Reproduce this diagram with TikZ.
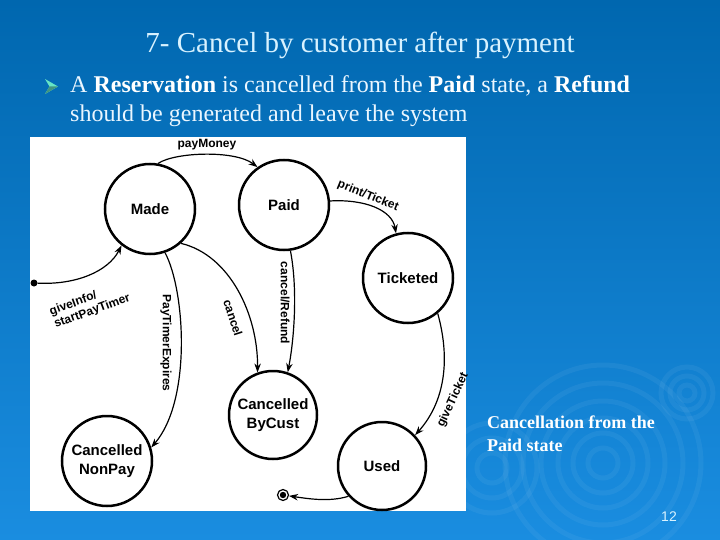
\documentclass[tikz,border=0pt]{standalone}
\usepackage{fontspec}
\setmainfont{Liberation Serif}
\setsansfont{Liberation Sans}
\usetikzlibrary{arrows.meta}
\definecolor{bgtop}{HTML}{0067AF}
\definecolor{bgbot}{HTML}{1A8DE0}
\definecolor{titlec}{HTML}{D8F2FF}
\definecolor{bodyc}{HTML}{EAF6FF}
\definecolor{bulletc}{HTML}{66E6C6}
\begin{document}
\begin{tikzpicture}[x=1pt,y=-1pt,
  stnode/.style={circle,draw,line width=2.5pt,minimum size=90pt,inner sep=0pt,fill=white,
    font=\sffamily\bfseries\fontsize{15}{19}\selectfont,align=center},
  lbl/.style={font=\sffamily\bfseries\fontsize{12}{13.5}\selectfont,inner sep=1pt},
  arr/.style={line width=1.2pt,-{Stealth[length=9pt,width=6.5pt]}},
  ripple/.style={white,opacity=0.05,line width=5pt}]
\useasboundingbox (0,0) rectangle (720,540);
% background
\shade[top color=bgtop,middle color=bgtop,bottom color=bgbot] (0,0) rectangle (720,540);
\foreach \r in {15,30,45,62,80,98} \draw[ripple] (603,463) circle (\r pt);
\foreach \r in {8,17,26} \draw[ripple] (687,393) circle (\r pt);
\foreach \r in {15,30,45} \draw[ripple] (492,468) circle (\r pt);
% title and text
\node[font=\fontsize{29}{34}\selectfont,text=titlec] (title) at (360,45) {7- Cancel by customer after payment};
\fill[bulletc] (45,79) -- (58,86.5) -- (45,94) -- (49.5,86.5) -- cycle;
\fill[bulletc!65!black] (49.5,86.5) -- (58,86.5) -- (45,94) -- cycle;
\node[anchor=base west,inner sep=0pt,font=\fontsize{24}{26}\selectfont,text=bodyc] (line1) at (70,93)
  {A \textcolor{white}{\textbf{Reservation}} is cancelled from the \textcolor{white}{\textbf{Paid}} state, a \textcolor{white}{\textbf{Refund}}};
\node[anchor=base west,inner sep=0pt,font=\fontsize{24}{26}\selectfont,text=bodyc] (line2) at (70,122)
  {should be generated and leave the system};
\node[anchor=base west,inner sep=0pt,font=\bfseries\fontsize{18}{22}\selectfont,text=white] (side1) at (487,428) {Cancellation from the};
\node[anchor=base west,inner sep=0pt,font=\bfseries\fontsize{18}{22}\selectfont,text=white] (side2) at (487,451) {Paid state};
\node[font=\sffamily\fontsize{14}{16}\selectfont,text=titlec] (pnum) at (669,517) {12};
% picture area
\fill[white] (30,137) rectangle (466,511);
\node[stnode] (made) at (150,209) {Made};
\node[stnode] (paid) at (284,205) {Paid};
\node[stnode] (tick) at (408,278) {Ticketed};
\node[stnode,minimum size=88pt] (cbc) at (273,415) {Cancelled\\ByCust};
\node[stnode,minimum size=88pt] (used) at (382,466) {Used};
\node[stnode] (cnp) at (107,461) {Cancelled\\NonPay};
\node[circle,fill=black,inner sep=0pt,minimum size=7pt] (init) at (34,283) {};
\node[circle,draw,line width=1.2pt,minimum size=11pt,inner sep=0pt] (fin) at (283,495) {};
\fill (fin.center) circle (3.2pt);
% transitions
\draw[arr] (init) .. controls (75,285) and (108,272) .. (made.232);
\node[lbl,rotate=20,align=left] (l-give) at (90,305) {giveInfo/\\startPayTimer};
\draw[arr] (made.80) .. controls (175,152) and (235,150) .. (paid.125);
\node[lbl] (l-pay) at (207,145) {payMoney};
\draw[arr] (paid.5) .. controls (365,199) and (392,210) .. (tick.105);
\node[lbl,rotate=-22] (l-print) at (368,196) {print/Ticket};
\draw[arr] (paid.278) .. controls (298,290) and (294,340) .. (cbc.71);
\node[lbl,rotate=-90] (l-ref) at (285,303) {cancel/Refund};
\draw[arr] (made.312) .. controls (230,255) and (258,315) .. (cbc.110);
\node[lbl,rotate=-72] (l-canc) at (233,318) {cancel};
\draw[arr] (made.289) .. controls (185,290) and (192,400) .. (cnp.17);
\node[lbl,rotate=-90] (l-exp) at (166,343) {PayTimerExpires};
\draw[arr] (tick.310) .. controls (452,365) and (442,405) .. (used.43);
\node[lbl,rotate=65] (l-gt) at (453,400) {giveTicket};
\draw[arr] (used.222) .. controls (330,502) and (310,499) .. (fin);
\end{tikzpicture}
\end{document}
